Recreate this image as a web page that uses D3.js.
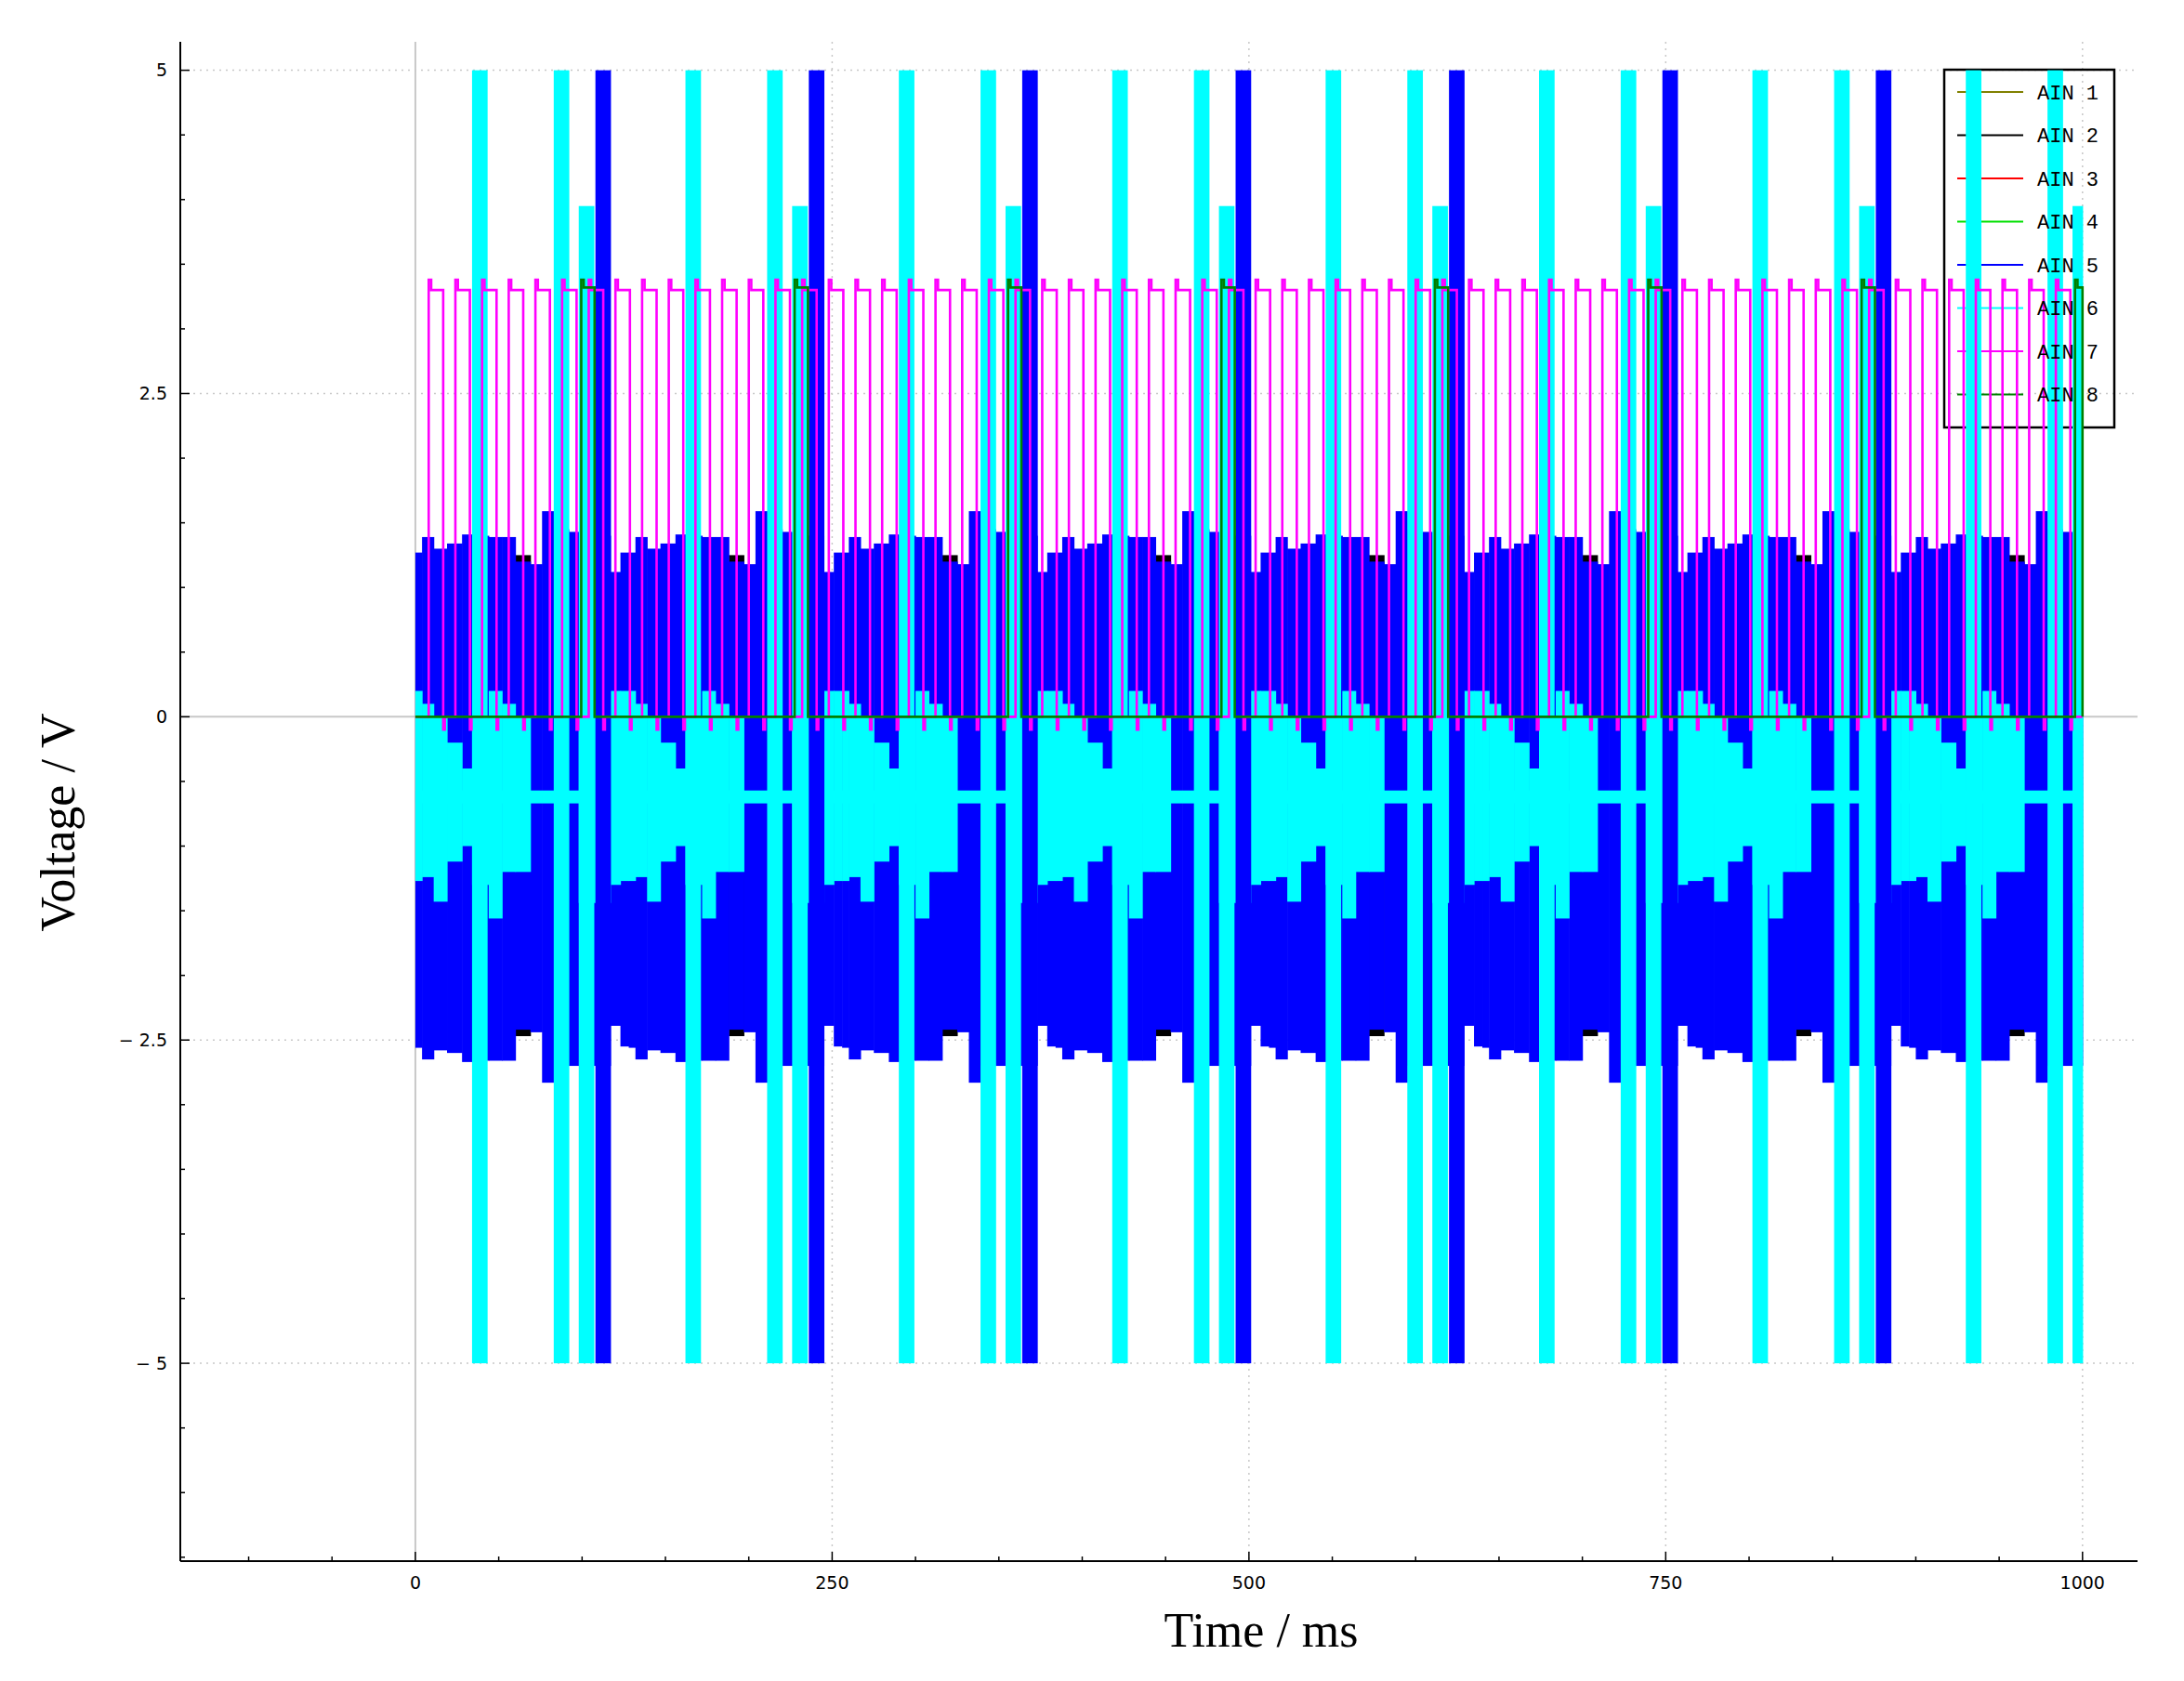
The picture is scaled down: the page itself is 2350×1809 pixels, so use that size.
<!DOCTYPE html>
<html>
<head>
<meta charset="utf-8">
<script src="https://cdn.jsdelivr.net/npm/d3@7"></script>
<style>
  body { margin: 0; background: #fff; }
  svg { display: block; }
</style>
</head>
<body>
<div id="chart"></div>
<script>
// one acquisition cycle (128 ms), repeated across the 1 s capture
const cycleMs = 128;
const captureMs = 1000;
const slotStart   = [0, 4, 11, 19, 28, 34, 44, 52, 60, 69, 76, 83, 92, 98, 108, 117, 123];
const ain5Top     = [1.27, 1.39, 1.30, 1.34, 1.41, 1.40, 1.39, 1.39, 1.20, 1.18, 1.59, 1.45, 1.43, 1.40, 1.40, 1.12, 1.27];
const ain5Bottom  = [-2.56, -2.65, -2.58, -2.60, -2.67, -2.66, -2.66, -2.66, -2.42, -2.44, -2.83, -2.70, -2.70, -2.70, -2.70, -2.39, -2.55];
const ain6Top     = [0.2, 0.1, 0, -0.2, -0.4, 0, 0.2, 0.1, 0, null, null, null, null, 0, 0, 0.2, 0.2];
const ain6Bottom  = [-1.27, -1.24, -1.43, -1.12, -1.0, -1.3, -1.56, -1.2, -1.2, null, null, null, null, -1.44, -1.44, -1.3, -1.27];
const ain6Line    = [-0.57, -0.67];

// saturated bursts inside each cycle: [start, end, top, bottom]
const ain5Bursts  = [[108, 117, 5, -5]];
const ain6Bursts  = [[34, 43, 5, -5], [83, 92, 5, -5], [98, 107, 3.95, -5]];
const ain2Marks   = [[60, 69, 1.25, -2.47]];

// AIN 7 square wave (16 ms) and AIN 8 pulse per cycle
const ain7Period = 16;
const ain7Edges  = [8, 9.5, 16.7, 17.7];     // rise, end of overshoot, fall, return to 0
const ain7Levels = [3.38, 3.30, -0.1, 0];
const ain8Edges  = [99.5, 101, 107.5];
const ain8Levels = [3.38, 3.32, 0];

const legendNames  = ["AIN 1", "AIN 2", "AIN 3", "AIN 4", "AIN 5", "AIN 6", "AIN 7", "AIN 8"];
const legendColors = ["#808000", "#000000", "#ff0000", "#00e000", "#0000ff", "#00ffff", "#ff00ff", "#008000"];

const xTicks = [0, 250, 500, 750, 1000];
const yTicks = [-5, -2.5, 0, 2.5, 5];
const yTickLabels = ["\u2212 5", "\u2212 2.5", "0", "2.5", "5"];

const W = 2350, H = 1809;
const L = 194, R = 2300, T = 45, B = 1680;

const x = d3.scaleLinear().domain([-141, 1033]).range([L, R]);
const y = d3.scaleLinear().domain([-6.53, 5.22]).range([B, T]);

const svg = d3.select("#chart").append("svg")
    .attr("width", W).attr("height", H);

svg.append("defs").append("clipPath").attr("id", "plot")
  .append("rect").attr("x", L).attr("y", T).attr("width", R - L).attr("height", B - T);

// grid
const grid = svg.append("g");
grid.selectAll(".gx").data(xTicks.filter(d => d !== 0)).join("line")
    .attr("x1", d => x(d)).attr("x2", d => x(d)).attr("y1", T).attr("y2", B)
    .attr("stroke", "#c8c8c8").attr("stroke-dasharray", "2,5").attr("stroke-width", 1.5);
grid.selectAll(".gy").data(yTicks.filter(d => d !== 0)).join("line")
    .attr("y1", d => y(d)).attr("y2", d => y(d)).attr("x1", L).attr("x2", R)
    .attr("stroke", "#c8c8c8").attr("stroke-dasharray", "2,5").attr("stroke-width", 1.5);
grid.append("line").attr("x1", x(0)).attr("x2", x(0)).attr("y1", T).attr("y2", B)
    .attr("stroke", "#c8c8c8").attr("stroke-width", 2);
grid.append("line").attr("y1", y(0)).attr("y2", y(0)).attr("x1", L).attr("x2", R)
    .attr("stroke", "#c8c8c8").attr("stroke-width", 2);

// legend box (drawn under the traces, as in the original)
const legendY0 = 99, legendStep = 46.5;
const lg = svg.append("g");
lg.append("rect").attr("x", 2092).attr("y", 75).attr("width", 183).attr("height", 385)
    .attr("fill", "none").attr("stroke", "#000").attr("stroke-width", 2.5);
legendNames.forEach((n, i) => {
  const yy = legendY0 + i * legendStep;
  lg.append("line").attr("x1", 2106).attr("x2", 2177).attr("y1", yy).attr("y2", yy)
      .attr("stroke", legendColors[i]).attr("stroke-width", 2);
});

// tile the cycle over the capture
const cycles = d3.range(Math.ceil(captureMs / cycleMs));
const slots = [];
cycles.forEach(c => slotStart.forEach((s, i) => {
  const t0 = c * cycleMs + s;
  const t1 = c * cycleMs + (i + 1 < slotStart.length ? slotStart[i + 1] : cycleMs);
  if (t0 < captureMs) slots.push({ t0, t1: Math.min(t1, captureMs), i });
}));
const tile = list => cycles.flatMap(c => list.map(b => ({
  t0: c * cycleMs + b[0], t1: Math.min(c * cycleMs + b[1], captureMs), top: b[2], bot: b[3]
}))).filter(d => d.t0 < captureMs);

const plot = svg.append("g").attr("clip-path", "url(#plot)");
const band = (g, data, color) => g.selectAll(null).data(data).join("rect")
    .attr("x", d => x(d.t0)).attr("width", d => x(d.t1) - x(d.t0) + 0.6)
    .attr("y", d => y(d.top)).attr("height", d => y(d.bot) - y(d.top))
    .attr("fill", color);

// flat channels at 0
["#808000", "#ff0000", "#00e000"].forEach(c => {
  plot.append("line").attr("x1", x(0)).attr("x2", x(captureMs)).attr("y1", y(0)).attr("y2", y(0))
      .attr("stroke", c).attr("stroke-width", 2);
});

// AIN 2 marks, then AIN 5 band
band(plot, tile(ain2Marks), "#000");
band(plot, slots.map(s => ({ t0: s.t0, t1: s.t1, top: ain5Top[s.i], bot: ain5Bottom[s.i] })), "#0000ff");

// AIN 6 band and its constant line
band(plot, slots.filter(s => ain6Top[s.i] !== null)
    .map(s => ({ t0: s.t0, t1: s.t1, top: ain6Top[s.i], bot: ain6Bottom[s.i] })), "#00ffff");
band(plot, [{ t0: 0, t1: captureMs, top: ain6Line[0], bot: ain6Line[1] }], "#00ffff");

// saturated bursts
band(plot, tile(ain5Bursts), "#0000ff");
band(plot, tile(ain6Bursts), "#00ffff");

// AIN 7 square wave
const ain7 = [{ t: 0, v: 0 }];
d3.range(0, captureMs, ain7Period).forEach(p => {
  ain7Edges.forEach((e, k) => { if (p + e < captureMs) ain7.push({ t: p + e, v: ain7Levels[k] }); });
});
ain7.push({ t: captureMs, v: 0 });
const step = d3.line().x(d => x(d.t)).y(d => y(d.v)).curve(d3.curveStepAfter);
plot.append("path").datum(ain7).attr("d", step)
    .attr("fill", "none").attr("stroke", "#ff00ff").attr("stroke-width", 2.6);

// AIN 8 pulses
const ain8 = [{ t: 0, v: 0 }];
cycles.forEach(c => ain8Edges.forEach((e, k) => {
  if (c * cycleMs + e < captureMs) ain8.push({ t: c * cycleMs + e, v: ain8Levels[k] });
}));
ain8.push({ t: captureMs, v: 0 });
plot.append("path").datum(ain8).attr("d", step)
    .attr("fill", "none").attr("stroke", "#008000").attr("stroke-width", 2.6);

// legend text on top
legendNames.forEach((n, i) => {
  svg.append("text").attr("x", 2192).attr("y", legendY0 + i * legendStep).attr("dy", "0.35em")
      .attr("font-family", "Liberation Mono, monospace").attr("font-size", 22)
      .text(n);
});

// axes
const xAxis = svg.append("g").attr("transform", `translate(0,${B})`);
xAxis.append("line").attr("x1", L).attr("x2", R).attr("stroke", "#000").attr("stroke-width", 2);
xAxis.selectAll(".minor").data(d3.range(-100, 1034, 50)).join("line")
    .attr("x1", d => x(d)).attr("x2", d => x(d)).attr("y1", 0)
    .attr("y2", d => d % 250 === 0 ? -10 : -5)
    .attr("stroke", "#000").attr("stroke-width", 1.5);
xAxis.selectAll("text").data(xTicks).join("text")
    .attr("x", d => x(d)).attr("y", 30).attr("text-anchor", "middle")
    .attr("font-family", "DejaVu Sans, sans-serif").attr("font-size", 19).text(d => d);

const yAxis = svg.append("g").attr("transform", `translate(${L},0)`);
yAxis.append("line").attr("y1", T).attr("y2", B).attr("stroke", "#000").attr("stroke-width", 2);
yAxis.selectAll(".minor").data(d3.range(-6.5, 5.01, 0.5)).join("line")
    .attr("y1", d => y(d)).attr("y2", d => y(d)).attr("x1", 0)
    .attr("x2", d => Math.abs(d % 2.5) < 1e-9 ? 10 : 5)
    .attr("stroke", "#000").attr("stroke-width", 1.5);
yAxis.selectAll("text").data(yTicks).join("text")
    .attr("x", -14).attr("y", d => y(d)).attr("dy", "0.35em").attr("text-anchor", "end")
    .attr("font-family", "DejaVu Sans, sans-serif").attr("font-size", 19)
    .text((d, i) => yTickLabels[i]);

svg.append("text").attr("x", 1357).attr("y", 1772).attr("text-anchor", "middle")
    .attr("font-family", "Liberation Serif, serif").attr("font-size", 52).text("Time / ms");
svg.append("text").attr("transform", "translate(80,885) rotate(-90)")
    .attr("text-anchor", "middle")
    .attr("font-family", "Liberation Serif, serif").attr("font-size", 52).text("Voltage / V");
</script>
</body>
</html>
